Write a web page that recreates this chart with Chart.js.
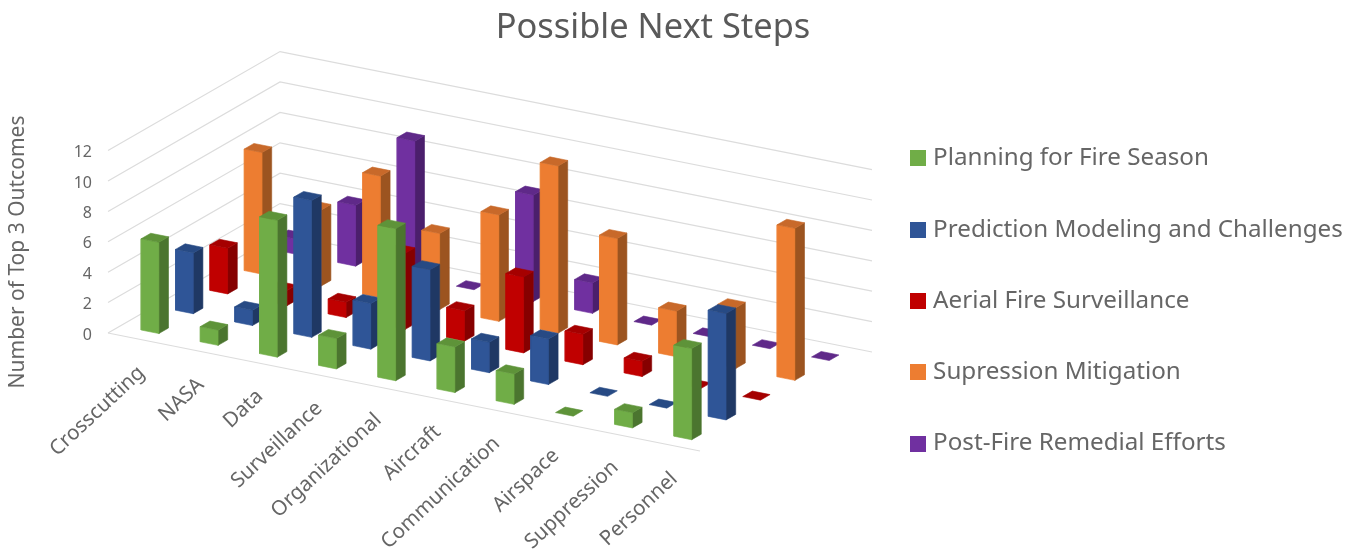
<!DOCTYPE html>
<html>
<head>
<meta charset="utf-8">
<title>Possible Next Steps</title>
<script src="https://cdn.jsdelivr.net/npm/chart.js@4/dist/chart.umd.min.js"></script>
<style>
  html, body { margin: 0; padding: 0; background: #fff; }
  #wrap { width: 1362px; height: 550px; }
</style>
</head>
<body>
<div id="wrap"><canvas id="chart"></canvas></div>
<script>
// Chart data
const categories = ['Crosscutting', 'NASA', 'Data', 'Surveillance', 'Organizational', 'Aircraft', 'Communication', 'Airspace', 'Suppression', 'Personnel'];
const seriesNames = ['Planning for Fire Season', 'Prediction Modeling and Challenges', 'Aerial Fire Surveillance', 'Supression Mitigation', 'Post-Fire Remedial Efforts'];
const planning = [6, 1, 9, 2, 10, 3, 2, 0, 1, 6];
const prediction = [4, 1, 9, 3, 6, 2, 3, 0, 0, 7];
const aerial = [3, 1, 1, 5, 2, 5, 2, 1, 0, 0];
const supression = [8, 5, 8, 5, 7, 11, 7, 3, 4, 10];
const postFire = [1, 4, 9, 0, 7, 2, 0, 0, 0, 0];
const yTicks = [0, 2, 4, 6, 8, 10, 12];

const seriesValues = [planning, prediction, aerial, supression, postFire];

// Colours per series: front, side, top
const palette = [
  ['#70AD47', '#4B752F', '#5E9339'],
  ['#2F5597', '#1F3864', '#274A84'],
  ['#C00000', '#860000', '#A50000'],
  ['#ED7D31', '#9C5420', '#C8692A'],
  ['#7030A0', '#4B1F6C', '#5F2989'],
];

// Oblique projection of the 3D box
const originX = 108, originY = 333; // front left corner of the floor
const catPx = 59.2;   // px per category along the front edge
const valPx = 15.2;   // px per value unit
const depthX = 34.4 / catPx, depthY = 19.8 / valPx; // one series step backwards
const slopeY = 11.8 / valPx;                        // one category step to the right
const halfU = 0.15, halfV = 0.14;

function project(u, v, z) {
  return { x: u + v * depthX, y: z - u * slopeY + v * depthY };
}

function face(corners, color) {
  const pts = corners.map(c => project(c[0], c[1], c[2]));
  pts.push(pts[0]);
  return {
    data: pts,
    showLine: true,
    fill: 'shape',
    tension: 0,
    pointRadius: 0,
    pointHoverRadius: 0,
    borderWidth: 0.6,
    borderColor: color,
    backgroundColor: color,
    clip: false,
  };
}

// First dataset is painted last, so go from the front row to the back
const datasets = [];
for (let s = 0; s < seriesValues.length; s++) {
  for (let c = categories.length - 1; c >= 0; c--) {
    const z = seriesValues[s][c];
    const u0 = c + 0.5 - halfU, u1 = c + 0.5 + halfU;
    const v0 = s + 0.5 - halfV, v1 = s + 0.5 + halfV;
    datasets.push(face([[u0, v0, z], [u1, v0, z], [u1, v1, z], [u0, v1, z]], palette[s][2]));
    if (z > 0) {
      datasets.push(face([[u0, v0, 0], [u1, v0, 0], [u1, v0, z], [u0, v0, z]], palette[s][0]));
      datasets.push(face([[u1, v0, 0], [u1, v1, 0], [u1, v1, z], [u1, v0, z]], palette[s][1]));
    }
  }
}

// Grid lines on the two walls and the front floor edge
const lastU = categories.length, lastV = seriesValues.length;
function gridLine(pts) {
  return { data: pts, showLine: true, fill: false, pointRadius: 0, pointHoverRadius: 0, borderWidth: 1.2, borderColor: '#DCDCDC', clip: false };
}
yTicks.forEach(t => {
  datasets.push(gridLine([project(0, 0, t), project(0, lastV, t), project(lastU, lastV, t)]));
});
datasets.push(gridLine([project(0, 0, 0), project(lastU, 0, 0)]));

// Legend swatch, as a canvas so the gap to the text can be tighter than the default
function swatch(color) {
  const c = document.createElement('canvas');
  c.width = 16;
  c.height = 16;
  const g = c.getContext('2d');
  g.fillStyle = color;
  g.fillRect(0, 0, 16, 16);
  return c;
}

// Pin the scales to the box and place what the layout can not place
const boxPlugin = {
  id: 'box',
  afterLayout(chart) {
    const area = chart.chartArea;
    const x = chart.scales.x, y = chart.scales.y;
    x.min = (area.left - originX) / catPx;
    x.max = (area.right - originX) / catPx;
    y.max = (originY - area.top) / valPx;
    y.min = (originY - area.bottom) / valPx;
    x.configure();
    y.configure();
    chart.titleBlock.right = chart.width - 56; // title sits a little left of centre
    chart.legend.left = 914 - chart.legend.options.labels.padding;
    chart.legend.top += 28;
    chart.legend.bottom += 28;
  },
  afterDraw(chart) {
    const ctx = chart.ctx;
    const x = chart.scales.x, y = chart.scales.y;
    ctx.save();
    ctx.fillStyle = '#666666';

    // Category labels along the front edge
    ctx.font = '20.5px "Noto Sans"';
    ctx.textAlign = 'right';
    ctx.textBaseline = 'middle';
    categories.forEach((label, i) => {
      const p = project(i + 0.5, 0, 0);
      ctx.save();
      ctx.translate(x.getPixelForValue(p.x) + 4, y.getPixelForValue(p.y) + 31);
      ctx.rotate(-43 * Math.PI / 180);
      ctx.fillText(label, 0, 0);
      ctx.restore();
    });

    // Axis title
    ctx.font = '21px "Noto Sans"';
    ctx.textAlign = 'center';
    ctx.translate(18, 252);
    ctx.rotate(-Math.PI / 2);
    ctx.fillText('Number of Top 3 Outcomes', 0, 0);
    ctx.restore();
  },
};

new Chart(document.getElementById('chart'), {
  type: 'scatter',
  data: { datasets },
  plugins: [boxPlugin],
  options: {
    responsive: true,
    maintainAspectRatio: false,
    animation: false,
    events: [],
    layout: { padding: { bottom: 4 } },
    scales: {
      x: { type: 'linear', display: false, min: 0, max: 14 },
      y: {
        type: 'linear',
        min: -14,
        max: 18,
        afterBuildTicks: scale => { scale.ticks = yTicks.map(value => ({ value })); },
        afterFit: scale => { scale.width = 100; },
        grid: { display: false, drawTicks: false },
        border: { display: false },
        ticks: { autoSkip: false, padding: 8, labelOffset: 2, color: '#666666', font: { family: '"Noto Sans"', size: 16 } },
      },
    },
    plugins: {
      tooltip: { enabled: false },
      title: {
        display: true,
        text: 'Possible Next Steps',
        color: '#595959',
        font: { family: '"Noto Sans"', size: 34.4, weight: 'normal' },
        padding: { top: 8, bottom: 8 },
      },
      legend: {
        position: 'right',
        onClick: null,
        labels: {
          usePointStyle: true,
          pointStyleWidth: 7,
          padding: 47.1,
          color: '#666666',
          font: { family: '"Noto Sans"', size: 24.2 },
          generateLabels: () => seriesNames.map((name, i) => ({
            text: name,
            pointStyle: swatch(palette[i][0]),
            fontColor: '#666666',
            lineWidth: 0,
          })),
        },
      },
    },
  },
});
</script>
</body>
</html>
